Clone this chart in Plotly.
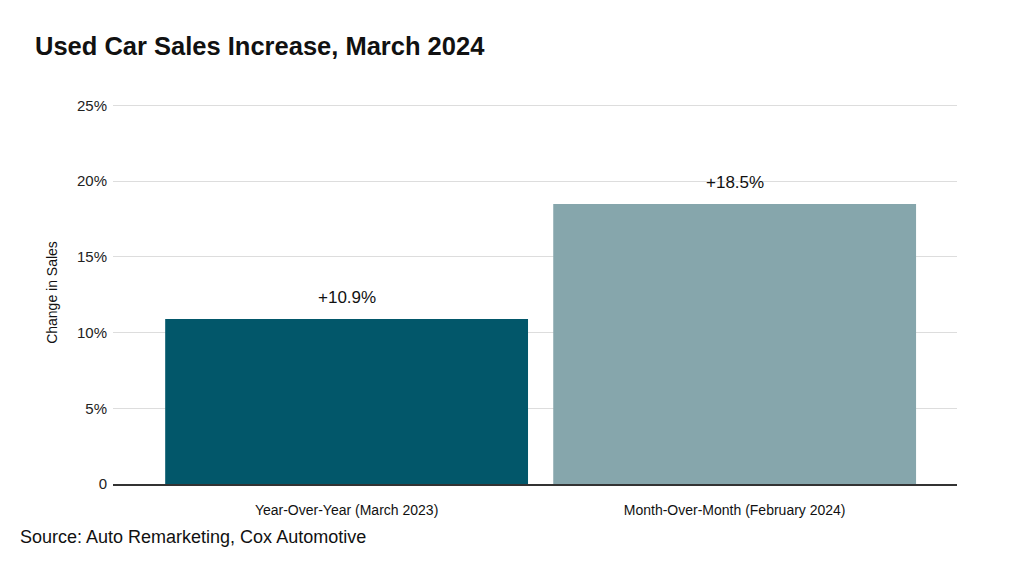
import plotly.graph_objects as go

categories = ["Year-Over-Year (March 2023)", "Month-Over-Month (February 2024)"]
values = [10.9, 18.5]
bar_colors = ["#02576A", "#86A6AC"]
tick_values = [0, 5, 10, 15, 20, 25]
tick_labels = ["0", "5%", "10%", "15%", "20%", "25%"]

FONT = "Liberation Sans, Arial, sans-serif"
Y_TOP = 25.3
# the page body has an 8px margin, so everything is nudged back by 8px
OFF = 8
PLOT_H = 378 * Y_TOP / 25
L, R, B = 113 - OFF, 67 + OFF, 81 + OFF
T = 565 - B - PLOT_H
PLOT_W = 1024 - L - R

fig = go.Figure(
    go.Bar(
        x=[0, 1],
        y=values,
        marker=dict(color=bar_colors, line=dict(width=0)),
        width=0.935,
        hoverinfo="skip",
    )
)

value_labels = [
    dict(
        x=i,
        y=v,
        xref="x",
        yref="y",
        text=f"+{v}%",
        showarrow=False,
        yanchor="bottom",
        yshift=10,
        font=dict(family=FONT, size=17, color="#111111"),
    )
    for i, v in enumerate(values)
]

source = dict(
    text="Source: Auto Remarketing, Cox Automotive",
    x=(18 - 113) / PLOT_W,
    xref="paper",
    xanchor="left",
    y=-(537 - 484) / PLOT_H,
    yref="paper",
    yanchor="middle",
    showarrow=False,
    font=dict(family=FONT, size=18, color="#111111"),
)

fig.update_layout(
    width=1024,
    height=565,
    margin=dict(l=L, r=R, t=T, b=B),
    paper_bgcolor="white",
    plot_bgcolor="white",
    showlegend=False,
    title=dict(
        text="<b>Used Car Sales Increase, March 2024</b>",
        x=(35 - OFF) / 1024,
        xanchor="left",
        y=1 - (46 - OFF) / 565,
        yanchor="middle",
        font=dict(family=FONT, size=25.5, color="#111111"),
    ),
    xaxis=dict(
        range=[-0.602, 1.573],
        tickvals=[0, 1],
        ticktext=categories,
        tickfont=dict(family=FONT, size=14, color="#111111"),
        showgrid=False,
        zeroline=False,
        showline=True,
        linecolor="#333333",
        linewidth=1.5,
        ticks="outside",
        ticklen=12,
        tickcolor="white",
    ),
    yaxis=dict(
        range=[0, Y_TOP],
        tickvals=tick_values,
        ticktext=tick_labels,
        tickfont=dict(family=FONT, size=15, color="#222222"),
        showgrid=True,
        gridcolor="#DDDDDD",
        gridwidth=1,
        zeroline=False,
        ticks="outside",
        ticklen=2,
        tickcolor="white",
        title=dict(
            text="Change in Sales",
            font=dict(family=FONT, size=14, color="#111111"),
            standoff=16,
        ),
    ),
    annotations=value_labels + [source],
)

fig.write_html("out.html")
